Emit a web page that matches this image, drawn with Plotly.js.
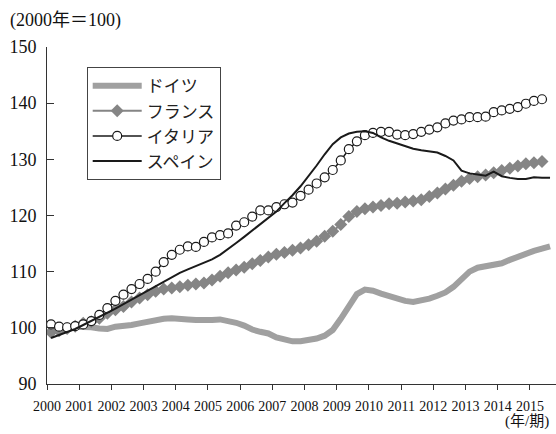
<!DOCTYPE html>
<html>
<head>
<meta charset="utf-8">
<script src="https://cdn.plot.ly/plotly-3.0.1.min.js"></script>
<style>
html,body{margin:0;padding:0;background:#fff;}
#chart{width:556px;height:434px;}
</style>
</head>
<body>
<div id="chart"></div>
<script>
// Quarterly index, 2000 = 100, from 2000 Q1
const startYear = 2000;
const seriesNames = ["ドイツ", "フランス", "イタリア", "スペイン"];
const yearLabels = ["2000","2001","2002","2003","2004","2005","2006","2007","2008","2009","2010","2011","2012","2013","2014","2015"];

const germany = [99.3,99.7,100.0,100.2,100.2,100.1,99.9,99.8,100.2,100.3,100.5,100.8,101.1,101.4,101.6,101.7,
  101.7,101.5,101.4,101.3,101.4,101.5,101.3,100.9,100.4,99.7,99.3,99.0,98.3,97.9,97.6,97.6,
  97.8,98.1,98.6,99.6,101.6,104.0,106.0,106.8,106.6,106.1,105.6,105.2,104.8,104.6,104.8,105.2,
  105.7,106.3,107.3,108.8,110.0,110.7,111.0,111.3,111.5,112.1,112.7,113.2,113.7,114.1,114.5];

const france = [99.2,99.5,99.9,100.3,100.8,101.1,101.7,102.6,103.2,103.8,104.6,105.3,105.9,106.5,106.9,107.1,
  107.3,107.6,107.8,108.0,108.5,109.2,109.8,110.3,110.8,111.4,112.0,112.6,113.1,113.4,113.8,114.2,
  114.8,115.4,116.3,117.2,118.4,119.8,120.7,121.2,121.5,121.8,122.1,122.2,122.4,122.6,122.8,123.4,
  124.0,124.7,125.4,126.1,126.6,126.9,127.2,127.6,128.0,128.4,128.8,129.2,129.4,129.6];

const italy = [100.6,100.2,100.1,100.3,100.6,101.2,102.3,103.5,104.8,105.9,106.9,107.8,108.7,110.0,111.7,113.0,
  113.9,114.5,114.4,115.3,116.1,116.5,116.8,118.2,118.8,119.8,120.9,120.9,121.5,122.0,122.3,123.5,
  124.6,125.7,126.8,128.1,129.8,131.8,133.2,134.3,134.7,134.9,134.9,134.4,134.3,134.5,134.9,135.3,
  135.7,136.4,136.9,137.1,137.5,137.5,137.6,138.4,138.7,139.0,139.3,139.9,140.4,140.7];

const spain = [98.2,98.7,99.2,99.8,100.5,101.2,101.9,102.6,103.4,104.2,105.0,105.9,106.7,107.5,108.3,109.1,
  109.8,110.4,111.0,111.6,112.2,113.0,114.0,115.1,116.2,117.3,118.4,119.5,120.7,122.2,123.6,125.2,
  127.0,128.9,130.9,132.7,133.9,134.6,134.9,135.0,134.7,133.9,133.3,132.8,132.3,131.9,131.6,131.4,
  131.2,130.6,129.8,128.0,127.5,127.3,127.1,127.8,127.0,126.7,126.5,126.5,126.8,126.7,126.7];

function quarterX(arr){ return arr.map((_, i) => startYear + (i + 0.5) / 4); }
const tickVals = yearLabels.map(Number);

const serifFont = "'Liberation Serif', 'Times New Roman', 'Noto Sans CJK JP', serif";
const jpFont = "'Noto Sans CJK JP', 'Liberation Serif', sans-serif";

const traces = [
  {x: quarterX(germany), y: germany, name: seriesNames[0], mode: "lines",
   line: {color: "#a0a0a0", width: 6}},
  {x: quarterX(france), y: france, name: seriesNames[1], mode: "lines+markers",
   line: {color: "#858585", width: 2},
   marker: {symbol: "diamond", size: 10, color: "#858585"}},
  {x: quarterX(italy), y: italy, name: seriesNames[2], mode: "lines+markers",
   line: {color: "#1a1a1a", width: 1.5},
   marker: {symbol: "circle", size: 9, color: "#ffffff", line: {color: "#1a1a1a", width: 1.2}}},
  {x: quarterX(spain), y: spain, name: seriesNames[3], mode: "lines",
   line: {color: "#1a1a1a", width: 2}}
];

const layout = {
  width: 556, height: 434,
  margin: {l: 47, r: 0, t: 47, b: 50},
  paper_bgcolor: "#fff", plot_bgcolor: "#fff",
  showlegend: true,
  legend: {
    x: 0.078, y: 0.94, xanchor: "left", yanchor: "top",
    bordercolor: "#444", borderwidth: 1, bgcolor: "#fff",
    font: {family: jpFont, size: 17, color: "#222"},
    tracegroupgap: 0, itemwidth: 49
  },
  xaxis: {
    range: [2000, 2015.81], showgrid: false, zeroline: false,
    showline: true, linecolor: "#333", linewidth: 1,
    ticks: "outside", ticklen: 5, tickcolor: "#333", tickwidth: 1,
    tickmode: "array", tickvals: tickVals, ticktext: yearLabels,
    tickangle: 0, ticklabelstandoff: 4,
    tickfont: {family: serifFont, size: 14, color: "#111"}
  },
  yaxis: {
    range: [90, 150], showgrid: false, zeroline: false,
    showline: true, linecolor: "#333", linewidth: 1,
    ticks: "inside", ticklen: 7, tickcolor: "#333", tickwidth: 1,
    dtick: 10, tick0: 90, ticklabelstandoff: 6,
    tickfont: {family: serifFont, size: 18, color: "#111"}
  },
  annotations: [
    {text: "(2000年＝100)", xref: "paper", yref: "paper", x: -0.077, y: 1.078,
     xanchor: "left", yanchor: "middle", showarrow: false,
     font: {family: serifFont, size: 18, color: "#111"}},
    {text: "(年/期)", xref: "paper", yref: "paper", x: 0.99, y: -0.112,
     xanchor: "right", yanchor: "middle", showarrow: false,
     font: {family: serifFont, size: 15, color: "#111"}}
  ]
};

Plotly.newPlot("chart", traces, layout, {displayModeBar: false, staticPlot: true});
</script>
</body>
</html>
